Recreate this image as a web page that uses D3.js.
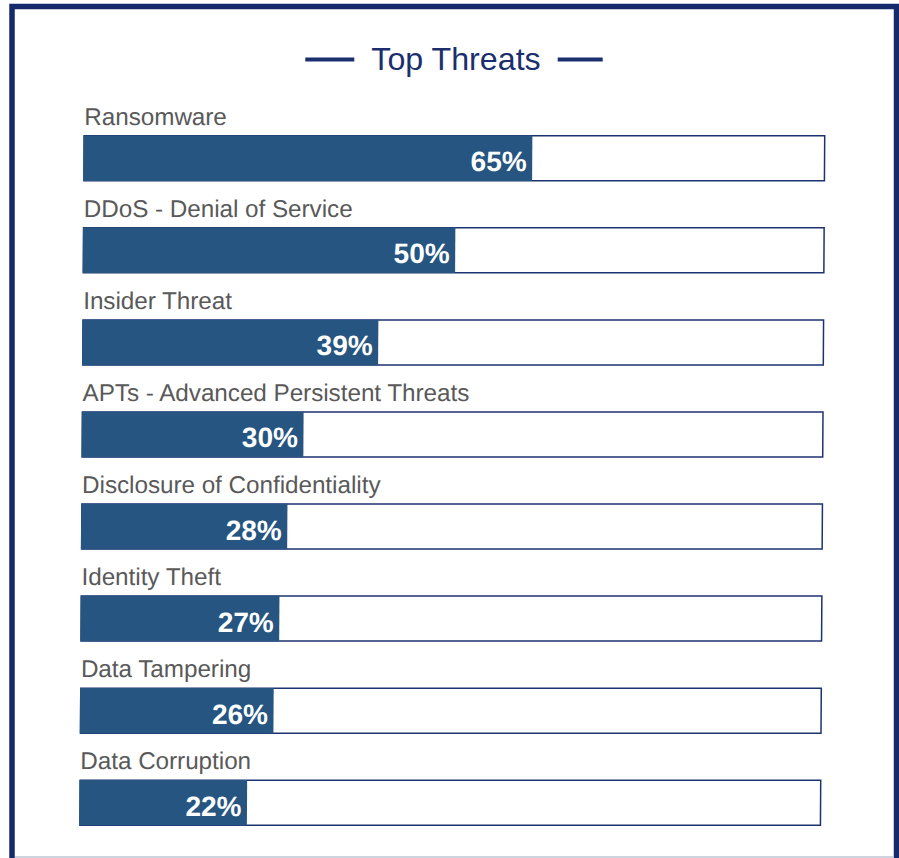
<!DOCTYPE html>
<html>
<head>
<meta charset="utf-8">
<script src="https://cdn.jsdelivr.net/npm/d3@7"></script>
<style>
  html, body { margin: 0; padding: 0; background: #ffffff; }
  svg { display: block; }
</style>
</head>
<body>
<div id="chart"></div>
<script>
// ---- data ----
const categories = [
  "Ransomware",
  "DDoS - Denial of Service",
  "Insider Threat",
  "APTs - Advanced Persistent Threats",
  "Disclosure of Confidentiality",
  "Identity Theft",
  "Data Tampering",
  "Data Corruption"
];
// printed percentages
const percentLabels = ["65%", "50%", "39%", "30%", "28%", "27%", "26%", "22%"];
// drawn bar lengths, as percent of the full track
const barValues = [60.5, 50.2, 39.9, 29.9, 27.8, 26.8, 26.1, 22.6];
const titleText = "Top Threats";

// ---- layout ----
const W = 899, H = 858;
const FONT = "'Liberation Sans', Arial, Helvetica, sans-serif";
const svg = d3.select("#chart").append("svg")
  .attr("width", W).attr("height", H);

// outer frame
svg.append("rect")
  .attr("x", 12).attr("y", 6.5)
  .attr("width", 884.5).attr("height", 880)
  .attr("fill", "#ffffff")
  .attr("stroke", "#152a6b").attr("stroke-width", 5.5);
svg.append("line")
  .attr("x1", 15).attr("x2", 894).attr("y1", 857).attr("y2", 857)
  .attr("stroke", "#bcc6d2").attr("stroke-width", 1.5);

// title with side rules
const titleG = svg.append("g");
const title = titleG.append("text")
  .attr("x", 456).attr("y", 70)
  .attr("text-anchor", "middle")
  .style("font-family", FONT)
  .attr("font-size", 32.2)
  .attr("fill", "#1b2f6e")
  .text(titleText);
const tb = title.node().getBBox();
titleG.append("line")
  .attr("x1", tb.x - 17 - 49).attr("x2", tb.x - 17)
  .attr("y1", 59.5).attr("y2", 59.5)
  .attr("stroke", "#1b2f6e").attr("stroke-width", 3.8);
titleG.append("line")
  .attr("x1", tb.x + tb.width + 17).attr("x2", tb.x + tb.width + 17 + 45)
  .attr("y1", 59.5).attr("y2", 59.5)
  .attr("stroke", "#1b2f6e").attr("stroke-width", 3.8);

// scales
const x0 = 84.3;
const trackW = 742;
const x = d3.scaleLinear().domain([0, 100]).range([0, trackW]);
const y = d3.scaleBand().domain(categories).range([89, 89 + 92.07 * categories.length]).padding(0);
const barH = 46.5;

const g = svg.append("g").attr("transform", "skewX(-0.355)");

const rows = g.selectAll("g.row")
  .data(categories.map((c, i) => ({ c, v: barValues[i], lab: percentLabels[i] })))
  .join("g").attr("class", "row");

rows.append("text")
  .attr("x", x0 + 0.8)
  .attr("y", d => y(d.c) + 36)
  .style("font-family", FONT)
  .attr("font-size", 24.2)
  .attr("fill", "#595959")
  .text(d => d.c);

rows.append("rect")
  .attr("x", x0 + 0.75)
  .attr("y", d => y(d.c) + 46 + 0.75)
  .attr("width", trackW - 1.5)
  .attr("height", barH - 1.5)
  .attr("fill", "#ffffff")
  .attr("stroke", "#1c3371")
  .attr("stroke-width", 1.5);

rows.append("rect")
  .attr("x", x0)
  .attr("y", d => y(d.c) + 46.5)
  .attr("width", d => x(d.v))
  .attr("height", barH - 1)
  .attr("fill", "#255580");

rows.append("text")
  .attr("x", d => x0 + x(d.v) - 5.5)
  .attr("y", d => y(d.c) + 46 + 36.3)
  .attr("text-anchor", "end")
  .style("font-family", FONT)
  .attr("font-weight", "bold")
  .attr("font-size", 28)
  .attr("fill", "#ffffff")
  .text(d => d.lab);
</script>
</body>
</html>
